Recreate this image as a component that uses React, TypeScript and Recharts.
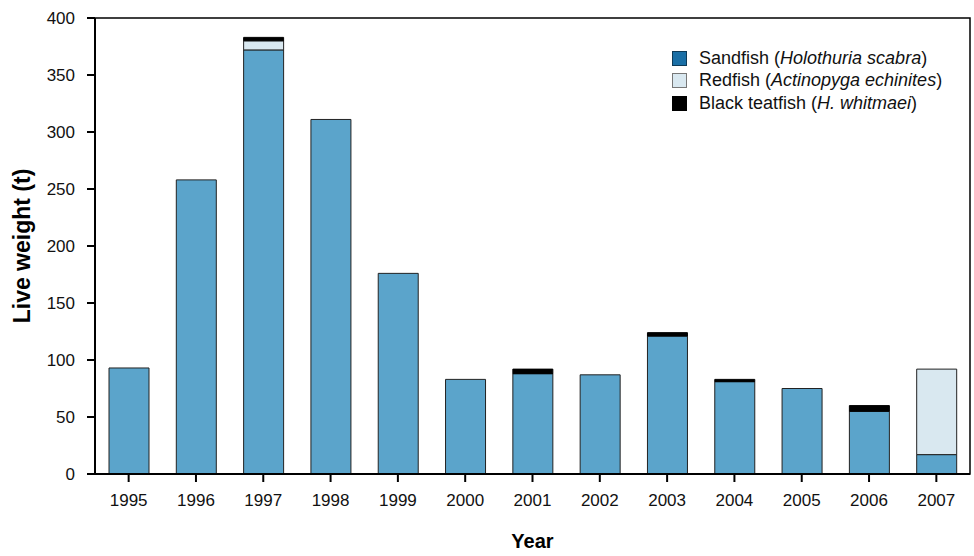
import { Bar, BarChart, ReferenceArea, XAxis, YAxis } from "recharts";

const years = ["1995", "1996", "1997", "1998", "1999", "2000", "2001", "2002", "2003", "2004", "2005", "2006", "2007"];
const sandfish = [93, 258, 372, 311, 176, 83, 88, 87, 121, 81, 75, 55, 17];
const redfish = [0, 0, 8, 0, 0, 0, 0, 0, 0, 0, 0, 0, 75];
const blackTeatfish = [0, 0, 3, 0, 0, 0, 4, 0, 3, 2, 0, 5, 0];
const yTicks = [0, 50, 100, 150, 200, 250, 300, 350, 400];

const data = years.map((year, i) => ({
  year,
  sandfish: sandfish[i],
  redfish: redfish[i],
  black: blackTeatfish[i],
}));

const font = "Arial, 'Liberation Sans', sans-serif";

const legendItems = [
  { name: "Sandfish", sci: "Holothuria scabra", color: "#1a6fa6", border: "#0d3a57" },
  { name: "Redfish", sci: "Actinopyga echinites", color: "#d9e8f0", border: "#777" },
  { name: "Black teatfish", sci: "H. whitmaei", color: "#000", border: "#000" },
];

function FishLegend() {
  return (
    <div
      style={{
        position: "absolute",
        left: 672,
        top: 47,
        fontFamily: font,
        fontSize: 18,
        color: "#111",
        whiteSpace: "nowrap",
      }}
    >
      {legendItems.map((it) => (
        <div key={it.name} style={{ display: "flex", alignItems: "center", height: 22.5 }}>
          <span
            style={{
              display: "inline-block",
              width: 13,
              height: 13,
              background: it.color,
              border: `1px solid ${it.border}`,
              marginRight: 12,
            }}
          />
          <span>
            {it.name} (<i>{it.sci}</i>)
          </span>
        </div>
      ))}
    </div>
  );
}

export default function App() {
  return (
    <div style={{ position: "absolute", left: 0, top: 0, width: 974, height: 556, background: "#fff" }}>
      <BarChart
        width={974}
        height={556}
        data={data}
        margin={{ top: 18, right: 4, left: 0, bottom: 4 }}
        barSize={40}
      >
        <ReferenceArea y1={0} y2={400} fill="none" stroke="#000" strokeWidth={1.5} ifOverflow="visible" />
        <XAxis
          dataKey="year"
          height={78}
          tickSize={8}
          tickMargin={12}
          stroke="#000"
          strokeWidth={2}
          tick={{ fill: "#111", fontSize: 17, fontFamily: font }}
          label={{
            value: "Year",
            position: "insideBottom",
            offset: 4,
            style: { fontFamily: font, fontSize: 20, fontWeight: "bold", fill: "#000" },
          }}
        />
        <YAxis
          width={95}
          domain={[0, 400]}
          ticks={yTicks}
          interval={0}
          tickSize={8}
          tickMargin={12}
          stroke="#000"
          strokeWidth={2}
          tick={{ fill: "#111", fontSize: 17, fontFamily: font }}
          label={{
            value: "Live weight (t)",
            angle: -90,
            position: "insideLeft",
            offset: 22,
            style: { textAnchor: "middle", fontFamily: font, fontSize: 23, fontWeight: "bold", fill: "#000" },
          }}
        />
        <Bar dataKey="sandfish" stackId="a" fill="#5ba4cb" stroke="#222" strokeWidth={1} isAnimationActive={false} />
        <Bar dataKey="redfish" stackId="a" fill="#d9e8f0" stroke="#222" strokeWidth={1} isAnimationActive={false} />
        <Bar dataKey="black" stackId="a" fill="#000" stroke="#000" strokeWidth={1} isAnimationActive={false} />
      </BarChart>
      <FishLegend />
    </div>
  );
}
